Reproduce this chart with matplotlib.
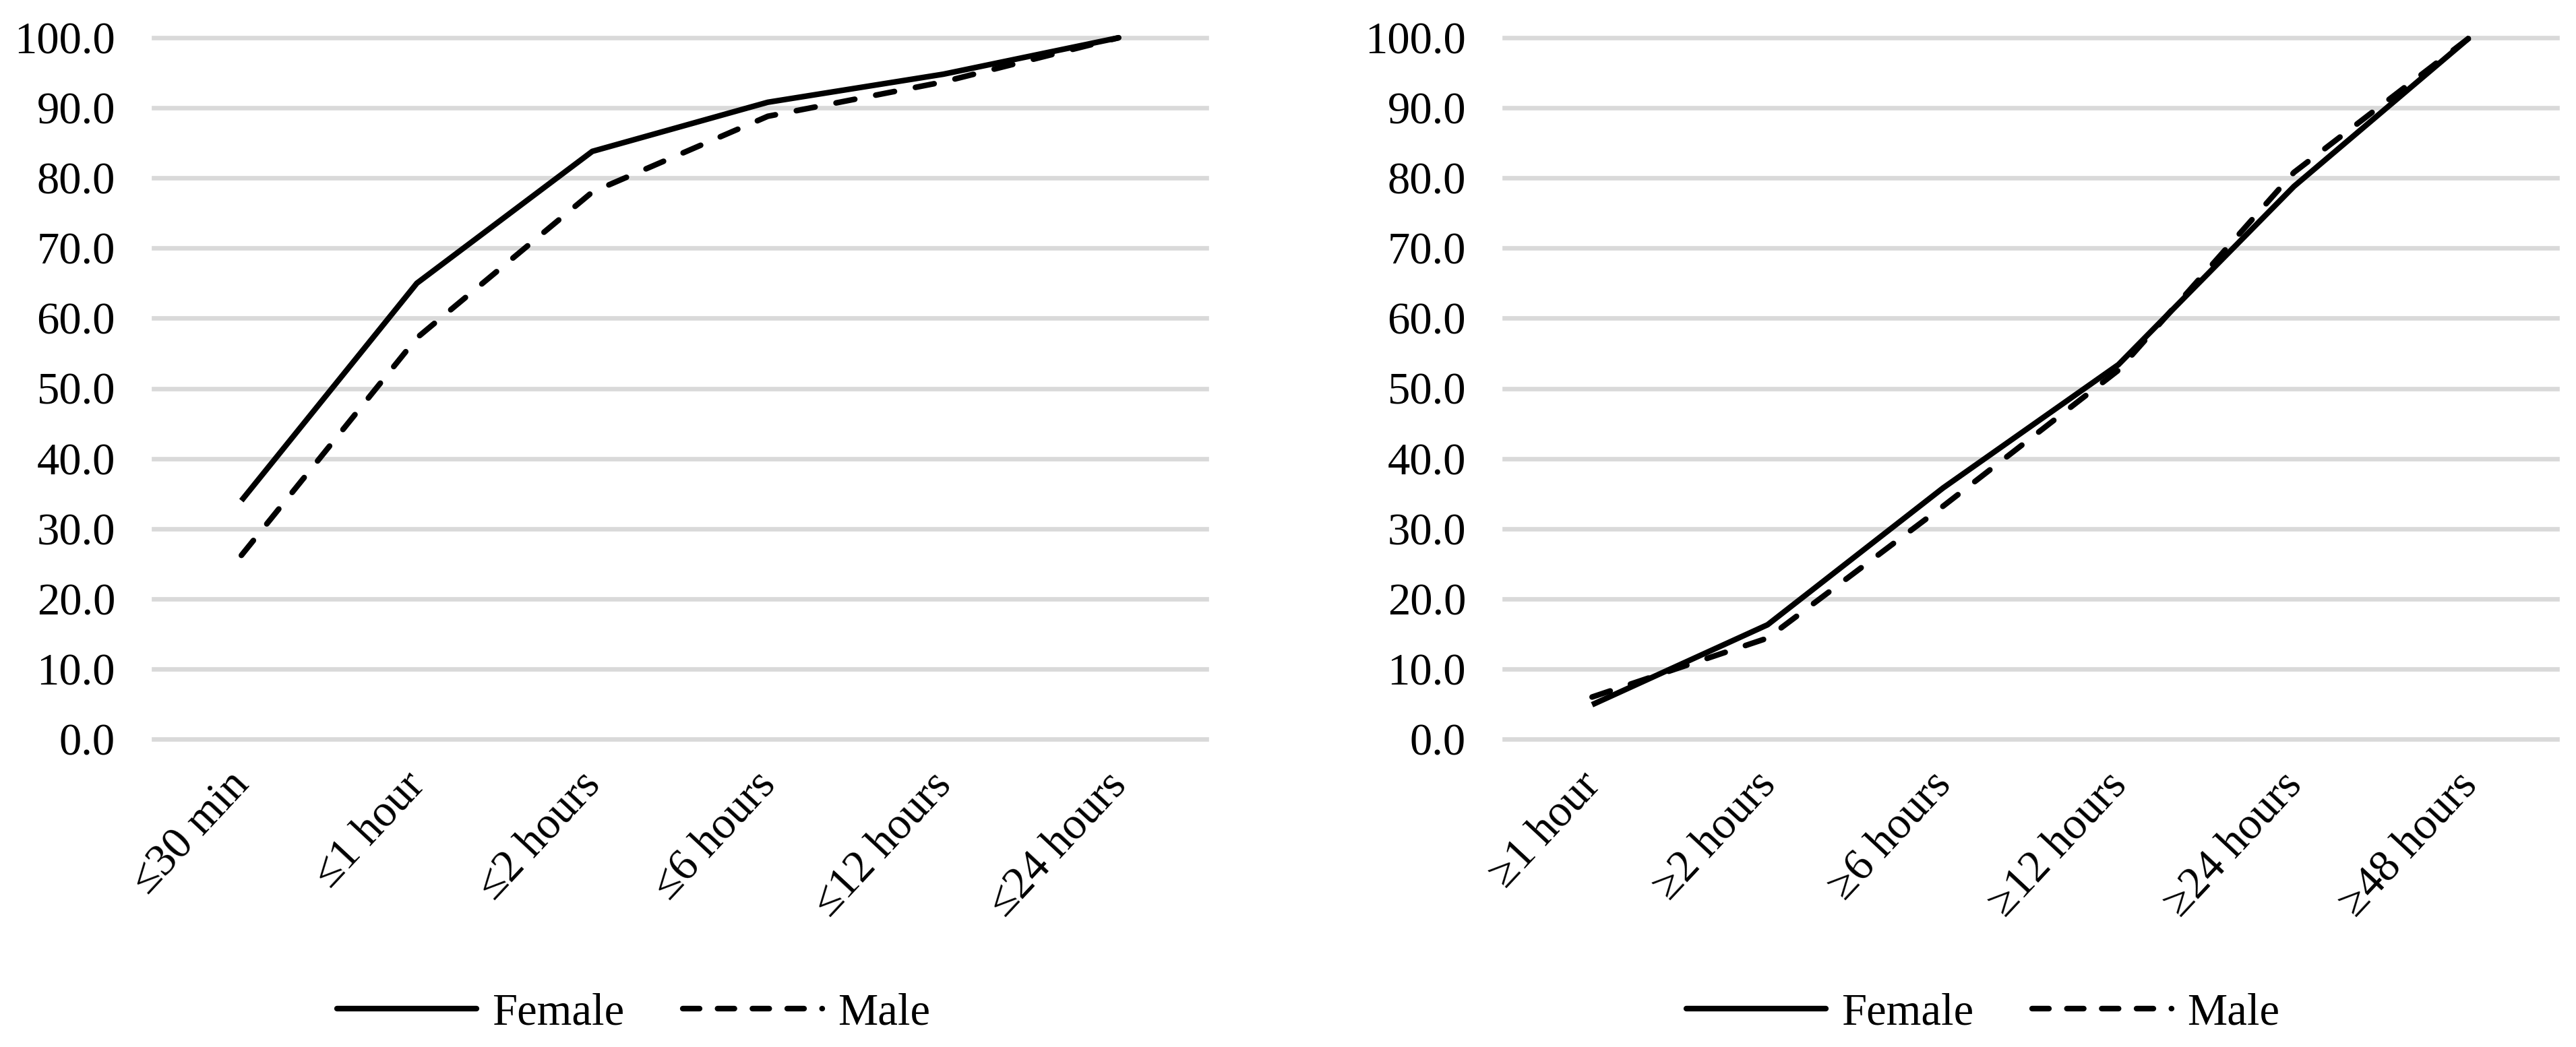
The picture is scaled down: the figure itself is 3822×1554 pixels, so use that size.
import matplotlib
matplotlib.use("Agg")
import matplotlib.pyplot as plt
import matplotlib.transforms as mtransforms
import numpy as np

plt.rcParams['font.family'] = ['Liberation Serif', 'DejaVu Serif']

# ---- data ----
left_categories = ["≤30 min", "≤1 hour", "≤2 hours", "≤6 hours", "≤12 hours", "≤24 hours"]
left_female = [34.0, 65.0, 83.8, 90.8, 94.8, 100.0]
left_male = [26.2, 57.2, 78.0, 88.8, 93.7, 100.0]

right_categories = ["≥1 hour", "≥2 hours", "≥6 hours", "≥12 hours", "≥24 hours", "≥48 hours"]
right_female = [4.9, 16.3, 35.8, 53.4, 78.8, 100.0]
right_male = [6.0, 14.4, 33.2, 52.6, 80.8, 100.0]

y_ticks = [0, 10, 20, 30, 40, 50, 60, 70, 80, 90, 100]
series_labels = ["Female", "Male"]

# ---- figure ----
W, H, DPI = 3823, 1554, 100
fig = plt.figure(figsize=(W / DPI, H / DPI), dpi=DPI)

FS = 48
LW = 6.0
GRID_LW = 4.8
male_ls = (0, (3.4, 3.8))

ax_bottom = 1 - 1097 / H
ax_top = 1 - 56 / H
ax_h = ax_top - ax_bottom
ax_w = 1562 / W
panels = [
    (228 / W, left_categories, left_female, left_male, 940 / W),
    (2232 / W, right_categories, right_female, right_male, 2942 / W),
]

for x0, cats, fem, mal, leg_x in panels:
    ax = fig.add_axes([x0, ax_bottom, ax_w, ax_h])
    x = np.arange(len(cats))
    ax.plot(x, fem, color='black', lw=LW, solid_joinstyle='round',
            solid_capstyle='butt', clip_on=False, zorder=3, label=series_labels[0])
    ax.plot(x, mal, color='black', lw=LW, linestyle=male_ls,
            dash_capstyle='round', dash_joinstyle='round',
            clip_on=False, zorder=3, label=series_labels[1])
    ax.set_xlim(-0.5, len(cats) - 0.5)
    ax.set_ylim(0, 100)
    ax.set_yticks(y_ticks)
    ax.set_yticklabels([f"{v:.1f}" for v in y_ticks])
    ax.set_xticks(x)
    ax.set_xticklabels(cats, rotation=47, ha='right', va='top')
    ax.tick_params(axis='both', length=0, labelsize=FS, colors='black')
    ax.tick_params(axis='y', pad=41)
    ax.tick_params(axis='x', pad=27)
    offset = mtransforms.ScaledTranslation(24 / DPI, 0, fig.dpi_scale_trans)
    for lab in ax.get_xticklabels():
        lab.set_transform(lab.get_transform() + offset)
    ax.grid(axis='y', color='#d9d9d9', lw=GRID_LW)
    ax.grid(axis='x', visible=False)
    for gl in ax.get_ygridlines():
        gl.set_clip_on(False)
    ax.set_axisbelow(True)
    for s in ax.spines.values():
        s.set_visible(False)

    leg_line1 = plt.Line2D([], [], color='black', lw=LW, solid_capstyle='round')
    leg_line2 = plt.Line2D([], [], color='black', lw=LW, linestyle=(0, (3.0, 3.2)),
                           dash_capstyle='round')
    ax.legend([leg_line1, leg_line2], series_labels, loc='center',
              bbox_to_anchor=(leg_x, 1 - 1504 / H), bbox_transform=fig.transFigure,
              ncol=2, frameon=False, fontsize=FS, handlelength=3.1,
              handletextpad=0.35, columnspacing=1.3)

fig.savefig("out.png", dpi=DPI, facecolor='white')
